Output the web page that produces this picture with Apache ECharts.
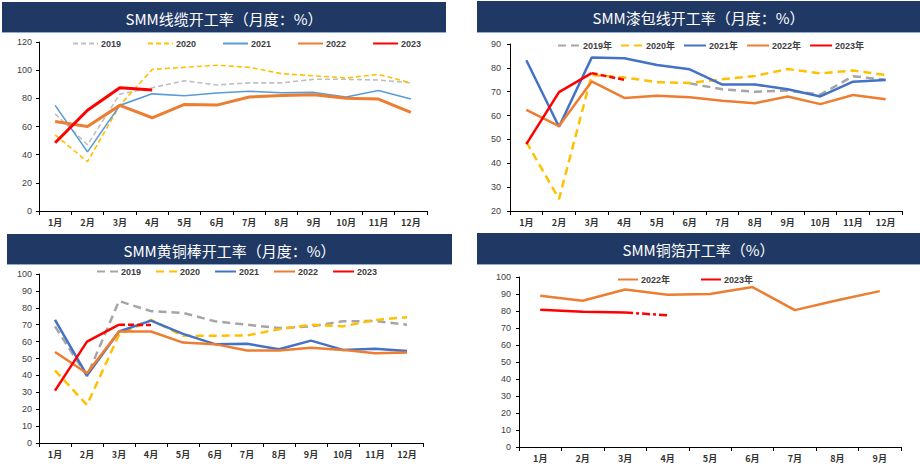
<!DOCTYPE html>
<html><head><meta charset="utf-8">
<script src="https://cdn.jsdelivr.net/npm/echarts@6/dist/echarts.min.js"></script>
<style>html,body{margin:0;padding:0;background:#fff}#c{width:920px;height:470px}</style>
</head><body><div id="c"></div>
<script>
// ---- data ----
var months12 = ['1月','2月','3月','4月','5月','6月','7月','8月','9月','10月','11月','12月'];
var months9 = ['1月','2月','3月','4月','5月','6月','7月','8月','9月'];

var titles = ['SMM线缆开工率（月度：%）','SMM漆包线开工率（月度：%）','SMM黄铜棒开工率（月度：%）','SMM铜箔开工率（%）'];

// 线缆
var cable2019 = [69, 47, 83, 87.5, 92.5, 89.5, 91, 91, 93.5, 93.5, 93, 91];
var cable2020 = [54, 35, 75, 100.5, 102, 103.5, 102, 97.5, 96, 94.5, 97, 91];
var cable2021 = [75, 42, 75, 83.2, 81.8, 83.8, 85, 84, 84.2, 81, 85.5, 79.5];
var cable2022 = [63.5, 60, 75, 66.2, 75.7, 75.2, 81, 82, 82.5, 80, 79.5, 70];
var cable2023 = [48.5, 71.5, 87.5, 86];

// 漆包线
var enamel2019 = [null, null, null, null, null, 73.5, 71, 70, 70.5, 68.8, 76.5, 75];
var enamel2020 = [49, 25, 77, 76, 74, 73.7, 75.2, 76.6, 79.5, 77.7, 78.9, 77];
var enamel2021 = [83.2, 55.3, 84.3, 84, 81.2, 79.4, 73, 73, 71, 68, 74.2, 74.9];
var enamel2022 = [62.4, 55.6, 74.3, 67.4, 68.3, 67.7, 66.2, 65.2, 68, 64.8, 68.6, 66.8];
var enamel2023 = [48, 69.8, 77.8];
var enamel2023f = [null, null, 77.8, 75];

// 黄铜棒
var brass2019 = [69, 39.5, 84, 78, 77, 72, 70, 68, 69, 72, 72.2, 70];
var brass2020 = [43, 22.5, 64, 72.8, 63.4, 63.5, 63.6, 67.3, 70, 69, 72.8, 74.4];
var brass2021 = [72.8, 40, 66, 72.4, 64.6, 58.5, 58.7, 55.5, 60.6, 55.1, 55.7, 54.5];
var brass2022 = [53.8, 41.3, 66, 66, 59.4, 58.5, 54.7, 54.7, 56.3, 55.1, 53.1, 53.5];
var brass2023 = [31, 60, 70];
var brass2023f = [null, null, 70, 69.8];

// 铜箔
var foil2022 = [89, 86, 92.6, 89.5, 90, 94.1, 80.5, 86.3, 91.7];
var foil2023 = [80.7, 79.5, 79.1];
var foil2023f = [null, null, 79.1, 77.5];

// ---- chart ----
var chart = echarts.init(document.getElementById('c'), null, {renderer: 'svg'});
var FONT = '"Liberation Sans", Arial, "Noto Sans CJK SC", sans-serif';
var CJK = '"Noto Sans CJK SC", sans-serif';

var grids = [
  {left: 39, right: 493, top: 42, bottom: 259},
  {left: 510, right: 18, top: 44, bottom: 259},
  {left: 39, right: 497, top: 274, bottom: 27},
  {left: 519, right: 19, top: 277, bottom: 23}
];
var ycfg = [
  {min: 0, max: 120, interval: 20, margin: 7},
  {min: 20, max: 90, interval: 10, margin: 9},
  {min: 0, max: 100, interval: 10, margin: 7},
  {min: 0, max: 100, interval: 10, margin: 8}
];
var xAxes = [months12, months12, months12, months9].map(function(cats, i){
  return {type: 'category', gridIndex: i, data: cats, boundaryGap: true,
    axisLine: {lineStyle: {color: '#000', width: 1}},
    axisTick: {show: true, length: 4, lineStyle: {color: '#000'}},
    axisLabel: {color: '#333', fontSize: 9, fontWeight: 'bold', fontFamily: CJK, margin: 7}};
});
var yAxes = ycfg.map(function(c, i){
  return {type: 'value', gridIndex: i, min: c.min, max: c.max, interval: c.interval,
    axisLine: {show: true, lineStyle: {color: '#000', width: 1}},
    axisTick: {show: true, length: 3, lineStyle: {color: '#000'}},
    splitLine: {show: false},
    axisLabel: {color: '#404040', fontSize: 9, fontFamily: FONT, margin: c.margin}};
});

function line(name, idx, data, color, width, dash, z){
  return {type: 'line', name: name, xAxisIndex: idx, yAxisIndex: idx, data: data,
    symbol: 'none', showSymbol: false, connectNulls: false, smooth: false, z: z || 2,
    lineStyle: {color: color, width: width, type: dash || 'solid'},
    itemStyle: {color: color}, emphasis: {disabled: true}, animation: false};
}

var series = [
  line('a_2019', 0, cable2019, '#BFBFBF', 1.6, [5,3], 2),
  line('a_2020', 0, cable2020, '#FFC000', 1.6, [5,3], 3),
  line('a_2021', 0, cable2021, '#5B9BD5', 1.6, null, 4),
  line('a_2022', 0, cable2022, '#ED7D31', 3, null, 5),
  line('a_2023', 0, cable2023, '#FF0000', 3, null, 6),

  line('b_2019年', 1, enamel2019, '#A5A5A5', 2.5, [8,5], 2),
  line('b_2020年', 1, enamel2020, '#FFC000', 2.5, [8,5], 3),
  line('b_2021年', 1, enamel2021, '#4472C4', 2.5, null, 4),
  line('b_2022年', 1, enamel2022, '#ED7D31', 2.5, null, 5),
  line('b_2023年', 1, enamel2023, '#FF0000', 2.5, null, 6),
  line('b_2023f', 1, enamel2023f, '#FF0000', 2.5, [6,3], 6),

  line('c_2019', 2, brass2019, '#A5A5A5', 2.5, [8,5], 2),
  line('c_2020', 2, brass2020, '#FFC000', 2.5, [8,5], 3),
  line('c_2021', 2, brass2021, '#4472C4', 2.5, null, 4),
  line('c_2022', 2, brass2022, '#ED7D31', 2.5, null, 5),
  line('c_2023', 2, brass2023, '#FF0000', 2.5, null, 6),
  line('c_2023f', 2, brass2023f, '#FF0000', 2.5, [6,3], 6),

  line('d_2022年', 3, foil2022, '#ED7D31', 2.5, null, 5),
  line('d_2023年', 3, foil2023, '#FF0000', 2.5, null, 6),
  line('d_2023f', 3, foil2023f, '#FF0000', 2.5, [8,3,3,3], 6)
];

function legend(names, left, top, gap, iw){
  return {data: names, left: left, top: top, itemGap: gap, itemWidth: iw, itemHeight: 8,
    selectedMode: false, padding: 0,
    itemStyle: {opacity: 0, borderWidth: 0},
    formatter: function(n){ return n.split('_')[1]; },
    textStyle: {color: '#404040', fontSize: 9, fontWeight: 'bold', fontFamily: FONT, padding: [0,0,0,-2]}};
}

var boxes = [
  {x: 2, y: 2, w: 444, h: 30},
  {x: 477, y: 1, w: 443, h: 31},
  {x: 7, y: 234, w: 445, h: 30},
  {x: 477, y: 233, w: 443, h: 31}
];
var graphics = [];
boxes.forEach(function(b, i){
  graphics.push({type: 'rect', shape: {x: b.x, y: b.y, width: b.w, height: b.h},
    style: {fill: '#1F3864'}, z: 10, silent: true});
  graphics.push({type: 'rect', shape: {x: b.x, y: b.y + b.h, width: b.w, height: 1},
    style: {fill: '#8EAADB'}, z: 10, silent: true});
  graphics.push({type: 'text', x: b.x + b.w / 2, y: b.y + b.h / 2 + 1, z: 11, silent: true,
    style: {text: titles[i], fill: '#FFFFFF', fontSize: 15, fontWeight: 'normal', fontFamily: CJK,
      align: 'center', verticalAlign: 'middle'}});
});

chart.setOption({
  animation: false,
  backgroundColor: '#fff',
  grid: grids,
  xAxis: xAxes,
  yAxis: yAxes,
  legend: [
    legend(['a_2019','a_2020','a_2021','a_2022','a_2023'], 72, 39, 26, 25),
    legend(['b_2019年','b_2020年','b_2021年','b_2022年','b_2023年'], 557, 41, 8, 22),
    legend(['c_2019','c_2020','c_2021','c_2022','c_2023'], 96, 267, 14, 21),
    legend(['d_2022年','d_2023年'], 617, 275, 30, 20)
  ],
  graphic: graphics,
  series: series
});
</script></body></html>
